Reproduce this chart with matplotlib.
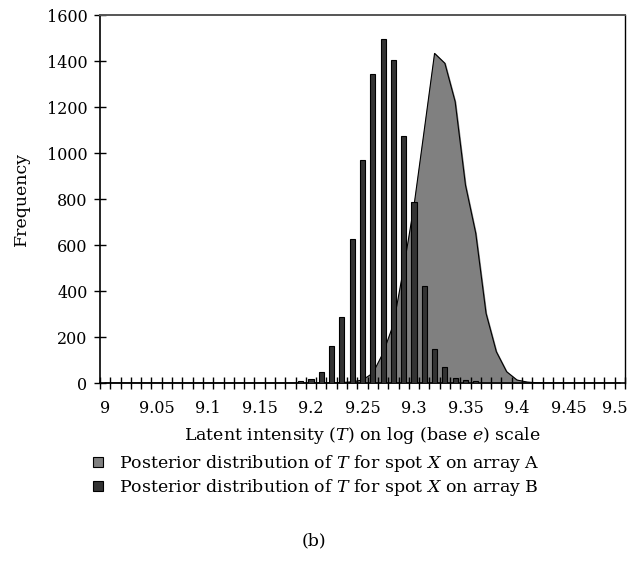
import numpy as np
import matplotlib
matplotlib.use("Agg")
import matplotlib.pyplot as plt
import matplotlib.transforms as mtransforms
from matplotlib.lines import Line2D

plt.rcParams['font.family'] = ['DejaVu Serif']
plt.rcParams['mathtext.fontset'] = 'custom'
plt.rcParams['mathtext.rm'] = 'DejaVu Serif'
plt.rcParams['mathtext.it'] = 'DejaVu Serif:italic'

# categories 9.00 .. 9.50 step 0.01
categories = ["%.2f" % (9 + i / 100) for i in range(51)]
tick_labels = ["9", "9.05", "9.1", "9.15", "9.2", "9.25", "9.3", "9.35", "9.4", "9.45", "9.5"]

# array A (area), values from 9.22 to 9.42, zero elsewhere
a_start = 22
array_a = [0, 2, 5, 13, 43, 130, 255, 500, 770, 1100, 1433,
           1390, 1223, 861, 651, 303, 136, 49, 13, 4, 1]
# array B (bars), values from 9.19 to 9.36
b_start = 19
array_b = [8, 17, 46, 160, 288, 626, 970, 1345, 1497, 1406,
           1074, 786, 420, 149, 68, 23, 13, 7]

freq_a = np.zeros(len(categories))
freq_a[a_start:a_start + len(array_a)] = array_a
freq_b = np.zeros(len(categories))
freq_b[b_start:b_start + len(array_b)] = array_b

fig = plt.figure(figsize=(6.28, 5.73), dpi=100)
ax = fig.add_axes([100 / 628, 1 - 383 / 573, 525 / 628, 368 / 573])

x = np.arange(len(categories))
ax.fill_between(x, freq_a, color='#808080', zorder=1)
ax.plot(x, freq_a, color='black', lw=0.8, zorder=2)
ax.bar(x, freq_b, width=0.5, color='#333333', edgecolor='black', lw=0.8, zorder=3)

ax.set_xlim(-0.5, len(categories) - 0.5)
ax.set_ylim(0, 1600)
ax.set_yticks(np.arange(0, 1601, 200))

# category ticks between categories, labels every 5th category
ax.set_xticks(np.arange(-0.5, len(categories), 1.0))
ax.set_xticklabels([])
ax.set_xticks(np.arange(0, len(categories), 5), minor=True)
ax.set_xticklabels(tick_labels, minor=True)
ax.tick_params(axis='x', which='major', direction='inout', length=9, width=1)
ax.tick_params(axis='x', which='minor', length=0, pad=12, labelsize=11.5)
ax.tick_params(axis='y', direction='inout', length=8, width=1, labelsize=11.5, pad=5)

# nudge the last label so it stays inside the figure
last = ax.get_xticklabels(minor=True)[-1]
last.set_transform(last.get_transform() + mtransforms.ScaledTranslation(-0.05, 0, fig.dpi_scale_trans))

for s in ['left', 'bottom']:
    ax.spines[s].set_linewidth(1.2)
ax.spines['top'].set_color('#555555')
ax.spines['top'].set_linewidth(1.4)
ax.spines['right'].set_color('black')
ax.spines['right'].set_linewidth(1.0)

ax.set_xlabel(r"Latent intensity ($T$) on log (base $e$) scale", fontsize=12.5, labelpad=6)
ax.set_ylabel("Frequency", fontsize=12.5, labelpad=12)

handles = [
    Line2D([], [], marker='s', ls='none', markersize=7, markerfacecolor='#808080', markeredgecolor='black', markeredgewidth=0.8),
    Line2D([], [], marker='s', ls='none', markersize=7, markerfacecolor='#333333', markeredgecolor='black', markeredgewidth=0.8),
]
labels = [r"Posterior distribution of $T$ for spot $X$ on array A",
          r"Posterior distribution of $T$ for spot $X$ on array B"]
fig.legend(handles, labels, loc='upper left', bbox_to_anchor=(91 / 628, 1 - 453 / 573),
           frameon=False, fontsize=12.5, handlelength=0.8, handletextpad=0.8,
           labelspacing=0.15, borderaxespad=0, borderpad=0)

fig.text(314 / 628, 1 - 541 / 573, "(b)", ha='center', va='center', fontsize=12.5)

fig.savefig("out.png", dpi=100)
